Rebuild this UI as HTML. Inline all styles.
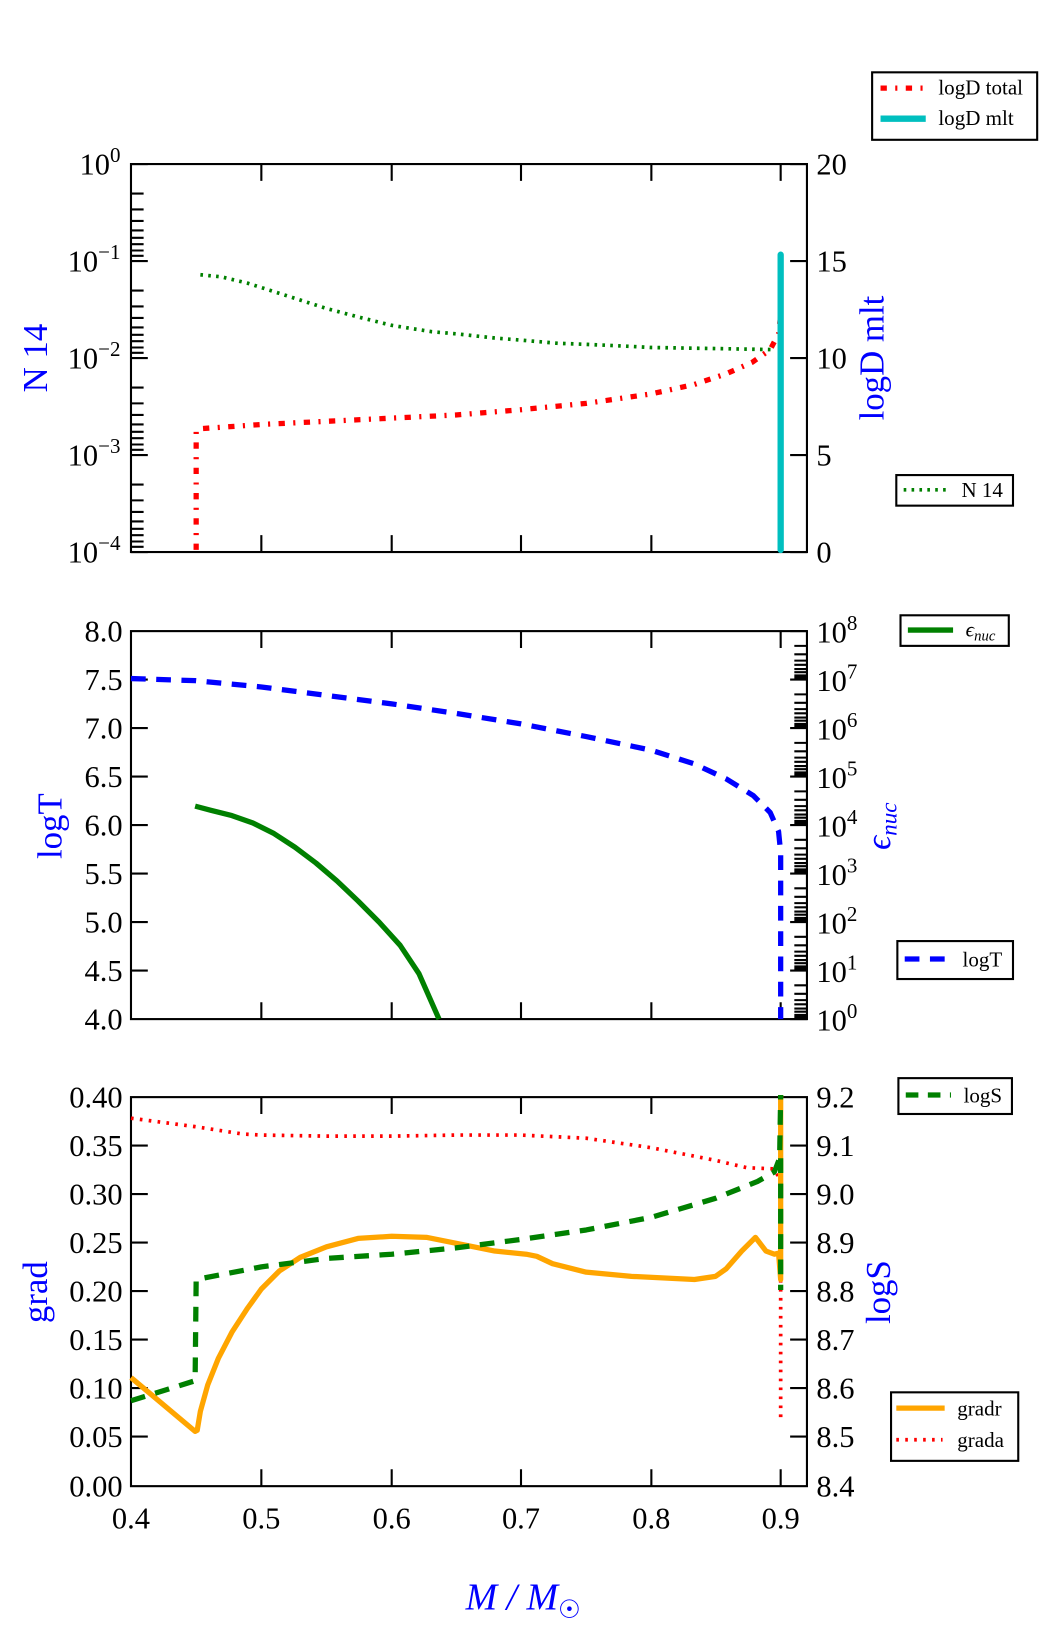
<!DOCTYPE html>
<html><head><meta charset="utf-8"><style>
html,body{margin:0;padding:0;background:#fff}
svg{display:block}
text{font-family:"Liberation Serif",serif;fill:#000}
</style></head><body>
<svg width="1050" height="1650" viewBox="-0.6 1.4 998.8 1565" preserveAspectRatio="none" xmlns="http://www.w3.org/2000/svg">
<rect x="-1" y="0" width="1001" height="1567" fill="#fff"/>
<g fill="none" stroke="#000" stroke-width="2">
<rect x="124" y="157" width="643" height="368"/>
<rect x="124" y="600" width="643" height="368"/>
<rect x="124" y="1042" width="643" height="369"/>
<path d="M248,157v16M372,157v16M495,157v16M619,157v16M742,157v16M248,525v-16M372,525v-16M495,525v-16M619,525v-16M742,525v-16
M248,600v16M372,600v16M495,600v16M619,600v16M742,600v16M248,968v-16M372,968v-16M495,968v-16M619,968v-16M742,968v-16
M248,1042v16M372,1042v16M495,1042v16M619,1042v16M742,1042v16M248,1411v-16M372,1411v-16M495,1411v-16M619,1411v-16M742,1411v-16"/>
<path d="M124,157h16M124,249h16M124,341h16M124,433h16M124,525h16
M124,185h12M124,200h12M124,211h12M124,220h12M124,227h12M124,233h12M124,239h12M124,244h12
M124,277h12M124,292h12M124,303h12M124,312h12M124,319h12M124,325h12M124,331h12M124,336h12
M124,369h12M124,384h12M124,395h12M124,404h12M124,411h12M124,417h12M124,423h12M124,428h12
M124,461h12M124,476h12M124,487h12M124,496h12M124,503h12M124,509h12M124,515h12M124,520h12"/>
<path d="M767,157h-16M767,249h-16M767,341h-16M767,433h-16M767,525h-16"/>
<path d="M124,646h16M124,692h16M124,738h16M124,784h16M124,830h16M124,876h16M124,922h16"/>
<path d="M767,600h-16M767,646h-16M767,692h-16M767,738h-16M767,784h-16M767,830h-16M767,876h-16M767,922h-16M767,968h-16
M767,614h-12M767,622h-12M767,628h-12M767,632h-12M767,636h-12M767,639h-12M767,642h-12M767,644h-12
M767,660h-12M767,668h-12M767,674h-12M767,678h-12M767,682h-12M767,685h-12M767,688h-12M767,690h-12
M767,706h-12M767,714h-12M767,720h-12M767,724h-12M767,728h-12M767,731h-12M767,734h-12M767,736h-12
M767,752h-12M767,760h-12M767,766h-12M767,770h-12M767,774h-12M767,777h-12M767,780h-12M767,782h-12
M767,798h-12M767,806h-12M767,812h-12M767,816h-12M767,820h-12M767,823h-12M767,826h-12M767,828h-12
M767,844h-12M767,852h-12M767,858h-12M767,862h-12M767,866h-12M767,869h-12M767,872h-12M767,874h-12
M767,890h-12M767,898h-12M767,904h-12M767,908h-12M767,912h-12M767,915h-12M767,918h-12M767,920h-12
M767,936h-12M767,944h-12M767,950h-12M767,954h-12M767,958h-12M767,961h-12M767,964h-12M767,966h-12"/>
<path d="M124,1088h16M124,1134h16M124,1180h16M124,1226h16M124,1272h16M124,1318h16M124,1364h16"/>
<path d="M767,1088h-16M767,1134h-16M767,1180h-16M767,1226h-16M767,1272h-16M767,1318h-16M767,1364h-16"/>
</g>
<g font-size="29" text-anchor="end">
<text x="114" y="167">10<tspan dy="-12" font-size="20">0</tspan></text>
<text x="114" y="259">10<tspan dy="-12" font-size="20">−1</tspan></text>
<text x="114" y="351">10<tspan dy="-12" font-size="20">−2</tspan></text>
<text x="114" y="443">10<tspan dy="-12" font-size="20">−3</tspan></text>
<text x="114" y="535">10<tspan dy="-12" font-size="20">−4</tspan></text>
<text x="116" y="610">8.0</text><text x="116" y="656">7.5</text><text x="116" y="702">7.0</text><text x="116" y="748">6.5</text><text x="116" y="794">6.0</text><text x="116" y="840">5.5</text><text x="116" y="886">5.0</text><text x="116" y="932">4.5</text><text x="116" y="978">4.0</text>
<text x="116" y="1052">0.40</text><text x="116" y="1098">0.35</text><text x="116" y="1144">0.30</text><text x="116" y="1190">0.25</text><text x="116" y="1236">0.20</text><text x="116" y="1282">0.15</text><text x="116" y="1328">0.10</text><text x="116" y="1374">0.05</text><text x="116" y="1421">0.00</text>
</g>
<g font-size="29" text-anchor="start">
<text x="776" y="167">20</text><text x="776" y="259">15</text><text x="776" y="351">10</text><text x="776" y="443">5</text><text x="776" y="535">0</text>
<text x="776" y="611">10<tspan dy="-12" font-size="20">8</tspan></text>
<text x="776" y="657">10<tspan dy="-12" font-size="20">7</tspan></text>
<text x="776" y="703">10<tspan dy="-12" font-size="20">6</tspan></text>
<text x="776" y="749">10<tspan dy="-12" font-size="20">5</tspan></text>
<text x="776" y="795">10<tspan dy="-12" font-size="20">4</tspan></text>
<text x="776" y="841">10<tspan dy="-12" font-size="20">3</tspan></text>
<text x="776" y="887">10<tspan dy="-12" font-size="20">2</tspan></text>
<text x="776" y="933">10<tspan dy="-12" font-size="20">1</tspan></text>
<text x="776" y="979">10<tspan dy="-12" font-size="20">0</tspan></text>
<text x="776" y="1052">9.2</text><text x="776" y="1098">9.1</text><text x="776" y="1144">9.0</text><text x="776" y="1190">8.9</text><text x="776" y="1236">8.8</text><text x="776" y="1282">8.7</text><text x="776" y="1328">8.6</text><text x="776" y="1374">8.5</text><text x="776" y="1421">8.4</text>
</g>
<g font-size="29" text-anchor="middle">
<text x="124" y="1451">0.4</text><text x="248" y="1451">0.5</text><text x="372" y="1451">0.6</text><text x="495" y="1451">0.7</text><text x="619" y="1451">0.8</text><text x="742" y="1451">0.9</text>
</g>
<g font-size="33" text-anchor="middle">
<text transform="translate(44,341) rotate(-90)" style="fill:#0000ff">N 14</text>
<text transform="translate(840,341) rotate(-90)" style="fill:#0000ff">logD mlt</text>
<text transform="translate(58,785) rotate(-90)" style="fill:#0000ff">logT</text>
<text transform="translate(846,785) rotate(-90)" font-style="italic" style="fill:#0000ff">ϵ<tspan font-size="22" dy="6">nuc</tspan></text>
<text transform="translate(44,1227) rotate(-90)" style="fill:#0000ff">grad</text>
<text transform="translate(846,1227) rotate(-90)" style="fill:#0000ff">logS</text>
<text x="497" y="1528" font-size="36" font-style="italic" style="fill:#0000ff">M / M<tspan font-style="normal" font-size="24" dy="8">☉</tspan></text>
</g>
<g fill="none" stroke-linejoin="round">
<path d="M190,262 L210,264 L235,270 L260,278 L285,286 L310,294 L340,302 L372,310 L410,316 L433,318 L470,322 L495,324 L530,327 L557,328 L600,330 L619,331 L680,332 L735,333" stroke="#008000" stroke-width="3.5" stroke-dasharray="2.5,5"/>
<path d="M186,523 L186,410 L190,408 L248,404 L310,401 L372,398 L433,395 L495,390 L557,384 L619,375 L660,366 L690,356 L715,345 L732,333 L740,318 L742,300" stroke="#ff0000" stroke-width="5" stroke-dasharray="6,8,2,8"/>
<path d="M742,523 L742,243" stroke="#00bfbf" stroke-width="6" stroke-linecap="round"/>
<path d="M124,645 L185,647 L248,653 L310,661 L372,669 L433,678 L495,688 L557,700 L619,713 L660,726 L690,740 L716,756 L732,772 L740,790 L742,810 L742,968" stroke="#0000ff" stroke-width="5" stroke-dasharray="14,10"/>
<path d="M185,766 L200,770 L220,775 L240,782 L260,792 L280,805 L300,820 L320,837 L340,856 L360,876 L380,898 L398,925 L417,968" stroke="#008000" stroke-width="5"/>
<path d="M124,1062 L185,1070 L230,1077 L248,1078 L310,1079 L372,1079 L433,1078 L495,1078 L557,1081 L619,1090 L680,1102 L710,1109 L735,1110 L742,1120 L742,1348" stroke="#ff0000" stroke-width="3.5" stroke-dasharray="2.5,6"/>
<path d="M124,1308 L185,1359 L187,1358 L190,1340 L197,1315 L207,1290 L220,1265 L235,1242 L248,1224 L265,1207 L285,1194 L310,1184 L340,1176 L372,1174 L405,1175 L440,1182 L470,1188 L500,1191 L510,1193 L525,1200 L557,1208 L600,1212 L660,1215 L680,1212 L690,1205 L705,1188 L718,1175 L728,1188 L736,1191 L740,1190 L742,1215 L742,1040" stroke="#ffa500" stroke-width="5"/>
<path d="M124,1330 L185,1311 L186,1215 L248,1203 L310,1195 L372,1191 L433,1185 L495,1177 L557,1168 L619,1156 L680,1138 L720,1122 L736,1113 L741,1100 L742,1040 M742,1100 L742,1225" stroke="#008000" stroke-width="5" stroke-dasharray="14,10"/>
</g>
<g font-size="20">
<rect x="829" y="70" width="157" height="64" fill="#fff" stroke="#000" stroke-width="2"/>
<path d="M837,85 H880" stroke="#ff0000" stroke-width="5" stroke-dasharray="6,8,2,8" fill="none"/>
<text x="892" y="91">logD total</text>
<path d="M837,114 H880" stroke="#00bfbf" stroke-width="6" fill="none"/>
<text x="892" y="120">logD mlt</text>
<rect x="852" y="452" width="111" height="29" fill="#fff" stroke="#000" stroke-width="2"/>
<path d="M859,466 H902" stroke="#008000" stroke-width="3.5" stroke-dasharray="2.5,5" fill="none"/>
<text x="914" y="473">N 14</text>
<rect x="856" y="585" width="103" height="29" fill="#fff" stroke="#000" stroke-width="2"/>
<path d="M863,599 H906" stroke="#008000" stroke-width="5" fill="none"/>
<text x="918" y="605" font-style="italic">ϵ<tspan font-size="14" dy="4">nuc</tspan></text>
<rect x="853" y="894" width="110" height="36" fill="#fff" stroke="#000" stroke-width="2"/>
<path d="M860,911 H903" stroke="#0000ff" stroke-width="5" stroke-dasharray="14,10" fill="none"/>
<text x="915" y="918">logT</text>
<rect x="854" y="1024" width="108" height="34" fill="#fff" stroke="#000" stroke-width="2"/>
<path d="M861,1040 H904" stroke="#008000" stroke-width="5" stroke-dasharray="12,9" fill="none"/>
<text x="916" y="1047">logS</text>
<rect x="847" y="1322" width="121" height="65" fill="#fff" stroke="#000" stroke-width="2"/>
<path d="M852,1337 H898" stroke="#ffa500" stroke-width="5" fill="none"/>
<text x="910" y="1344">gradr</text>
<path d="M852,1367 H896" stroke="#ff0000" stroke-width="3.5" stroke-dasharray="2.5,6" fill="none"/>
<text x="910" y="1374">grada</text>
</g>
</svg>
</body></html>
